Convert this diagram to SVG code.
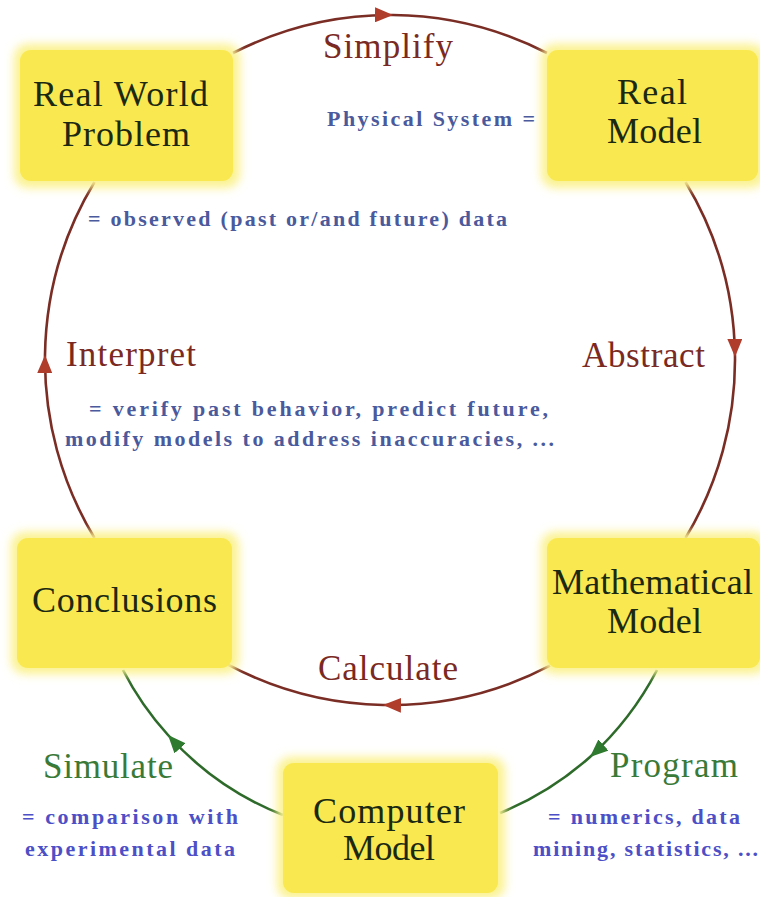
<svg xmlns="http://www.w3.org/2000/svg" width="760" height="897" viewBox="0 0 760 897">
<defs>
<style>
.box{fill:#f9e84f;}
.glow{fill:#fbf290;filter:url(#blur);}
.bt{font-size:36px;fill:#1b2912;text-anchor:middle;}
.lr{font-size:35px;fill:#7a2a22;text-anchor:middle;}
.lg{font-size:35px;fill:#3a7a38;text-anchor:middle;}
.bl{font-size:22px;font-weight:bold;fill:#4a5a9c;}
.bl2{font-size:22px;font-weight:bold;fill:#4d4fc6;}
.red{fill:none;stroke:#7a2d24;stroke-width:2.6;marker-mid:url(#ar);}
.grn{fill:none;stroke:#2e6b2a;stroke-width:2.6;marker-mid:url(#ag);}
</style>
<filter id="blur" x="-20%" y="-20%" width="140%" height="140%"><feGaussianBlur stdDeviation="5"/></filter>
<marker id="ar" markerUnits="userSpaceOnUse" markerWidth="19" markerHeight="15" refX="18" refY="7.5" orient="auto"><path d="M0,0 L18,7.5 L0,15 z" fill="#b03c2c"/></marker>
<marker id="ag" markerUnits="userSpaceOnUse" markerWidth="19" markerHeight="15" refX="18" refY="7.5" orient="auto"><path d="M0,0 L18,7.5 L0,15 z" fill="#2e7a2e"/></marker>
</defs>
<rect width="760" height="897" fill="#ffffff"/>

<g id="connectors">
<path class="red" d="M233,53 A345,345 0 0 1 393,15 A345,345 0 0 1 547,53"/>
<path class="red" d="M685.5,182 A345,345 0 0 1 735,357 A345,345 0 0 1 685.5,538"/>
<path class="red" d="M550,665.6 A345,345 0 0 1 383,705 A345,345 0 0 1 228,664.6"/>
<path class="red" d="M94.5,538 A345,345 0 0 1 45,355 A345,345 0 0 1 94.5,182"/>
<path class="grn" d="M657,670 A313,313 0 0 1 590,757 A313,313 0 0 1 500,813"/>
<path class="grn" d="M283,815 A301,301 0 0 1 168,735 A301,301 0 0 1 123,670"/>
</g>

<g font-family="Liberation Serif, DejaVu Serif, serif">
<g id="real-world-problem">
<rect class="glow" x="14" y="44" width="226" height="144" rx="14"/>
<rect class="box" x="20" y="50" width="213" height="131" rx="11"/>
<text class="bt" x="120.5" y="106" textLength="175" lengthAdjust="spacing">Real World</text>
<text class="bt" x="126" y="146" textLength="128" lengthAdjust="spacing">Problem</text>
</g>
<g id="real-model">
<rect class="glow" x="541" y="44" width="224" height="144" rx="14"/>
<rect class="box" x="547" y="50" width="211" height="131" rx="11"/>
<text class="bt" x="652" y="104" textLength="70" lengthAdjust="spacing">Real</text>
<text class="bt" x="654.5" y="143" textLength="95" lengthAdjust="spacing">Model</text>
</g>
<g id="conclusions">
<rect class="glow" x="11" y="532" width="228" height="142" rx="14"/>
<rect class="box" x="17" y="538" width="215" height="130" rx="11"/>
<text class="bt" x="124.5" y="612" textLength="185" lengthAdjust="spacing">Conclusions</text>
</g>
<g id="mathematical-model">
<rect class="glow" x="541" y="532" width="226" height="142" rx="14"/>
<rect class="box" x="547" y="538" width="213" height="130" rx="11"/>
<text class="bt" x="652.5" y="594" textLength="201" lengthAdjust="spacing">Mathematical</text>
<text class="bt" x="654.5" y="633" textLength="95" lengthAdjust="spacing">Model</text>
</g>
<g id="computer-model">
<rect class="glow" x="277" y="757" width="228" height="142" rx="14"/>
<rect class="box" x="283" y="763" width="215" height="130" rx="11"/>
<text class="bt" x="389" y="823" textLength="152" lengthAdjust="spacing">Computer</text>
<text class="bt" x="389" y="860" textLength="92" lengthAdjust="spacing">Model</text>
</g>

<g id="labels">
<text class="lr" x="388" y="58" textLength="130" lengthAdjust="spacing">Simplify</text>
<text class="lr" x="643.5" y="367" textLength="123" lengthAdjust="spacing">Abstract</text>
<text class="lr" x="388" y="680" textLength="140" lengthAdjust="spacing">Calculate</text>
<text class="lr" x="131" y="366" textLength="130" lengthAdjust="spacing">Interpret</text>
<text class="lg" x="674" y="777" textLength="128" lengthAdjust="spacing">Program</text>
<text class="lg" x="108" y="778" textLength="130" lengthAdjust="spacing">Simulate</text>
<text class="bl" x="327" y="126" textLength="208" lengthAdjust="spacing">Physical System =</text>
<text class="bl" x="88" y="226" textLength="419" lengthAdjust="spacing">= observed (past or/and future) data</text>
<text class="bl" x="89" y="416" textLength="459" lengthAdjust="spacing">= verify past behavior, predict future,</text>
<text class="bl" x="65" y="446" textLength="489" lengthAdjust="spacing">modify models to address inaccuracies, ...</text>
<text class="bl2" x="22" y="824" textLength="216" lengthAdjust="spacing">= comparison with</text>
<text class="bl2" x="25" y="856" textLength="210" lengthAdjust="spacing">experimental data</text>
<text class="bl2" x="548" y="824" textLength="192" lengthAdjust="spacing">= numerics, data</text>
<text class="bl2" x="533" y="856" textLength="225" lengthAdjust="spacing">mining, statistics, ...</text>
</g>
</g>
</svg>
